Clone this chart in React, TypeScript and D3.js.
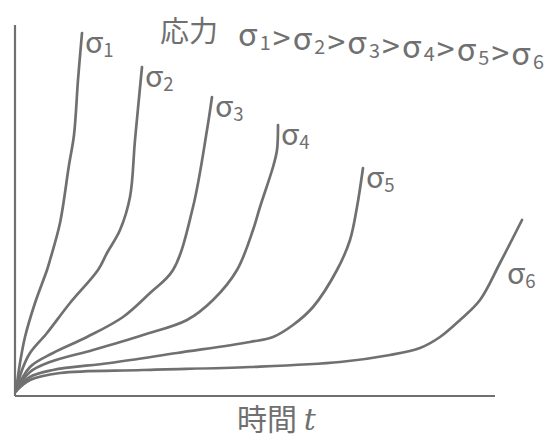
import React from "react";
import * as d3 from "d3";

// Creep curves: time t (x) vs strain (y)
const stressLabels = ["1", "2", "3", "4", "5", "6"];
const sigma1: [number, number][] = [[1,5],[5,33],[10,59],[20,93],[32,126],[35,136],[45,173],[54,231],[59,261],[63,316],[67,363]];
const sigma2: [number, number][] = [[1,5],[7,26],[15,43],[32,63],[55,93],[83,126],[92,143],[105,166],[115,199],[120,256],[127,329]];
const sigma3: [number, number][] = [[1,5],[15,29],[38,43],[72,59],[108,79],[135,103],[158,126],[178,189],[192,266],[197,299]];
const sigma4: [number, number][] = [[1,5],[15,24],[35,34],[78,46],[128,61],[172,76],[198,96],[222,126],[238,166],[245,189],[258,229],[262,246],[263,271]];
const sigma5: [number, number][] = [[1,5],[15,19],[38,26],[95,33],[162,43],[235,54],[258,59],[278,71],[298,89],[322,126],[335,156],[342,189],[348,228]];
const sigma6: [number, number][] = [[1,5],[15,16],[45,23],[128,26],[235,29],[325,34],[375,41],[405,48],[425,59],[445,76],[465,96],[485,133],[507,176]];
const series = [sigma1, sigma2, sigma3, sigma4, sigma5, sigma6];

const W = 560, H = 442;
const x = d3.scaleLinear().domain([0, 480]).range([15, 495]);
const y = d3.scaleLinear().domain([0, 371]).range([396, 25]);

const ink = "#707070";
const font = "'Noto Sans CJK JP', 'DejaVu Sans', sans-serif";

const line = d3
  .line<[number, number]>()
  .x((d) => x(d[0]))
  .y((d) => y(d[1]))
  .curve(d3.curveCatmullRom.alpha(0.5));

function Sig({ n, size = 26 }: { n: string; size?: number }) {
  return (
    <>
      <tspan>σ</tspan>
      <tspan fontSize={size * 0.62} dy={size * 0.12}>{n}</tspan>
      <tspan dy={-size * 0.12}></tspan>
    </>
  );
}

export default function App() {
  return (
    <svg width={W} height={H} style={{ position: "absolute", left: 0, top: 0, background: "#fff" }}>
      {/* axes */}
      <line x1={x(0)} y1={y(371)} x2={x(0)} y2={y(0)} stroke={ink} strokeWidth={2.2} />
      <line x1={x(0)} y1={y(0)} x2={x(480)} y2={y(0)} stroke={ink} strokeWidth={2.2} />
      {/* curves */}
      {series.map((s, i) => (
        <path key={i} d={line(s) || ""} fill="none" stroke={ink} strokeWidth={2.7} strokeLinecap="round" />
      ))}
      {/* curve labels */}
      {series.map((s, i) => {
        const last = s[s.length - 1];
        const lx = i === 5 ? x(last[0]) - 15 : x(last[0]) + 3;
        const ly = i === 5 ? y(last[1]) + 64 : y(last[1]) + 20;
        return (
          <text key={"l" + i} x={lx} y={ly} fontFamily={font} fontSize={30} fill={ink}>
            <Sig n={stressLabels[i]} size={30} />
          </text>
        );
      })}
      {/* title */}
      <text x={160} y={42} fontFamily={font} fontSize={29} fill={ink}>応力</text>
      <text x={238} y={46} fontFamily={font} fontSize={32} fill={ink} textLength={306} lengthAdjust="spacing">
        {stressLabels.map((n, i) => (
          <React.Fragment key={n}>
            <Sig n={n} size={32} />
            {i < stressLabels.length - 1 && <tspan>&gt;</tspan>}
          </React.Fragment>
        ))}
      </text>
      {/* x-axis label */}
      <text x={237} y={430} fontFamily={font} fontSize={30} fill={ink}>
        時間 <tspan fontStyle="italic" fontFamily="'DejaVu Serif', serif">t</tspan>
      </text>
    </svg>
  );
}
